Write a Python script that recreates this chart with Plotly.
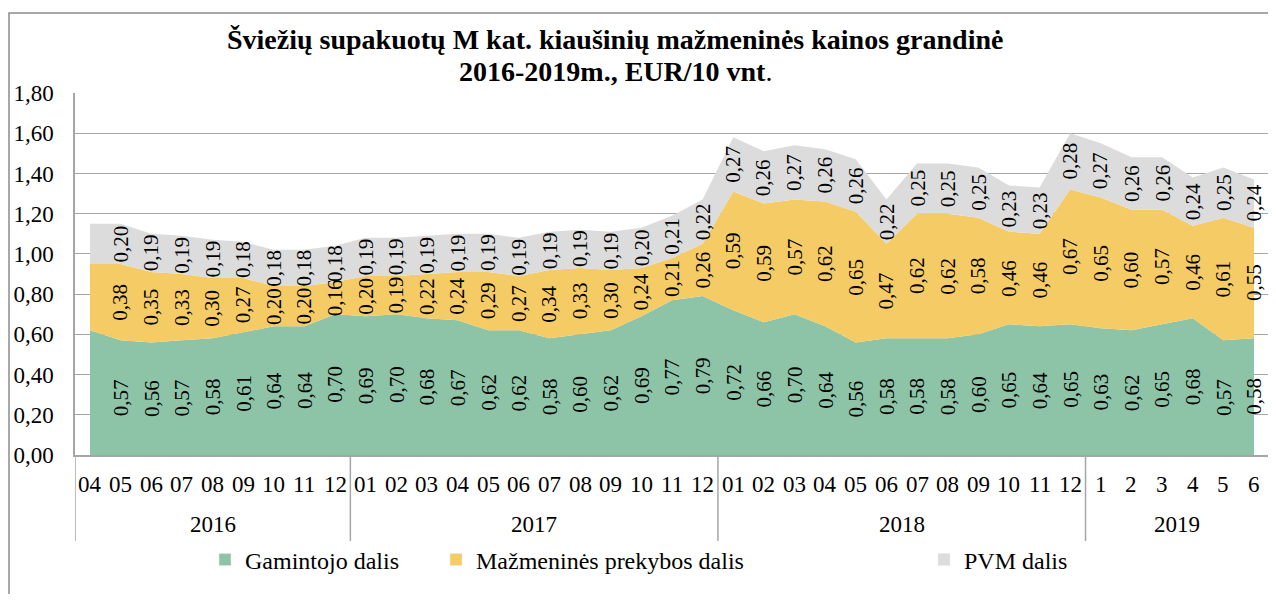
import plotly.graph_objects as go

# ---- data ----
months = ["04", "05", "06", "07", "08", "09", "10", "11", "12",
          "01", "02", "03", "04", "05", "06", "07", "08", "09", "10", "11", "12",
          "01", "02", "03", "04", "05", "06", "07", "08", "09", "10", "11", "12",
          "1", "2", "3", "4", "5", "6"]
years = ["2016", "2017", "2018", "2019"]
months_per_year = [9, 12, 12, 6]

producer = [0.62, 0.57, 0.56, 0.57, 0.58, 0.61, 0.64, 0.64, 0.70,
            0.69, 0.70, 0.68, 0.67, 0.62, 0.62, 0.58, 0.60, 0.62, 0.69, 0.77, 0.79,
            0.72, 0.66, 0.70, 0.64, 0.56, 0.58, 0.58, 0.58, 0.60, 0.65, 0.64, 0.65,
            0.63, 0.62, 0.65, 0.68, 0.57, 0.58]
retail = [0.33, 0.38, 0.35, 0.33, 0.30, 0.27, 0.20, 0.20, 0.16,
          0.20, 0.19, 0.22, 0.24, 0.29, 0.27, 0.34, 0.33, 0.30, 0.24, 0.21, 0.26,
          0.59, 0.59, 0.57, 0.62, 0.65, 0.47, 0.62, 0.62, 0.58, 0.46, 0.46, 0.67,
          0.65, 0.60, 0.57, 0.46, 0.61, 0.55]
vat = [0.20, 0.20, 0.19, 0.19, 0.19, 0.18, 0.18, 0.18, 0.18,
       0.19, 0.19, 0.19, 0.19, 0.19, 0.19, 0.19, 0.19, 0.19, 0.20, 0.21, 0.22,
       0.27, 0.26, 0.27, 0.26, 0.26, 0.22, 0.25, 0.25, 0.25, 0.23, 0.23, 0.28,
       0.27, 0.26, 0.26, 0.24, 0.25, 0.24]
series_names = ["Gamintojo dalis", "Mažmeninės prekybos dalis", "PVM dalis"]
title_lines = ["<b>Šviežių supakuotų M kat. kiaušinių mažmeninės kainos grandinė</b>",
               "<b>2016-2019m., EUR/10 vnt</b>."]
first_labelled = 1  # the first month carries no data labels in the original

# ---- style / geometry (reference-pixel based) ----
FONT = "Liberation Serif"
colors = ["#8DC3A7", "#F5CB65", "#DCDCDC"]
GRID = "#A6A6A6"
OFF = 8                       # page body margin of the html page
REF_W, REF_H = 1276, 602
W, H = REF_W - 2 * OFF, REF_H - 2 * OFF     # keep the page free of overflow
PLOT_L, PLOT_R, PLOT_T, PLOT_B = 75, REF_W - OFF, 93, 455   # reference pixels
ML, MR = PLOT_L - OFF, 0
MT = PLOT_T - OFF
MB = H - (PLOT_B - OFF)
PW, PH = W - ML - MR, H - MT - MB
X0_PX, X_LAST_PX = 90.0, 1254.0   # reference pixels of the first / last point
STEP = (X_LAST_PX - X0_PX) / (len(months) - 1)


def px_to_x(px):
    return (px - X0_PX) / STEP


def py_to_paper(py):
    return (PLOT_B - py) / PH


def px_to_paper(px):
    return (px - PLOT_L) / PW


n = len(months)
xs = list(range(n))
fig = go.Figure()

for name, vals, col in zip(series_names, [producer, retail, vat], colors):
    fig.add_trace(go.Scatter(x=xs, y=vals, name=name, stackgroup="one", mode="none",
                             fillcolor=col, showlegend=False, hoverinfo="y"))

legend_ids = ["legend", "legend2", "legend3"]
legend_text_px = [245, 476, 964]
for name, col, lid in zip(series_names, colors, legend_ids):
    fig.add_trace(go.Bar(x=[None], y=[None], name=name, marker_color=col,
                         showlegend=True, legend=lid))

# data labels (rotated), centred in each band
ann = []
for i in range(first_labelled, n):
    base = 0.0
    for vals in (producer, retail, vat):
        v = vals[i]
        ann.append(dict(x=i, y=base + v / 2, xref="x", yref="y",
                        xanchor="center", yanchor="middle",
                        text=f"{v:.2f}".replace(".", ","), showarrow=False,
                        textangle=-90, font=dict(family=FONT, size=21, color="black")))
        base += v

# month labels
for i, m in enumerate(months):
    ann.append(dict(x=i, y=py_to_paper(484), xref="x", yref="paper", text=m,
                    xanchor="center", yanchor="middle",
                    showarrow=False, font=dict(family=FONT, size=23, color="black")))

# year labels and dividers
shapes = []
start = 0
bounds = [px_to_x(PLOT_L)]
for yname, cnt in zip(years, months_per_year):
    left = start - 0.5
    right = start + cnt - 0.5
    ann.append(dict(x=(left + right) / 2, y=py_to_paper(524), xref="x", yref="paper",
                    xanchor="center", yanchor="middle",
                    text=yname, showarrow=False,
                    font=dict(family=FONT, size=23, color="black")))
    if start > 0:
        bounds.append(left)
    start += cnt
for b in bounds:
    shapes.append(dict(type="line", xref="x", yref="paper", x0=b, x1=b,
                       y0=0, y1=py_to_paper(541), line=dict(color=GRID, width=1.5)))

# outer frame
shapes.append(dict(type="rect", xref="paper", yref="paper",
                   x0=px_to_paper(9), x1=px_to_paper(1300),
                   y0=py_to_paper(640), y1=py_to_paper(13),
                   line=dict(color="#8C8C8C", width=1.5), layer="below"))

# title (two centred lines)
for txt, ty in zip(title_lines, [40, 72]):
    ann.append(dict(x=px_to_paper(615), y=py_to_paper(ty), xref="paper", yref="paper",
                    xanchor="center", yanchor="middle", text=txt, showarrow=False,
                    font=dict(family=FONT, size=28, color="black")))

legend_common = dict(orientation="h", yanchor="middle", xanchor="left",
                     y=py_to_paper(560), font=dict(family=FONT, size=24, color="black"),
                     bgcolor="rgba(0,0,0,0)", itemwidth=30)
legend_cfg = {}
for lid, tpx in zip(legend_ids, legend_text_px):
    legend_cfg[lid] = dict(x=px_to_paper(tpx - 40), **legend_common)

fig.update_layout(
    width=W, height=H,
    margin=dict(l=ML, r=MR, t=MT, b=MB),
    paper_bgcolor="white", plot_bgcolor="white",
    separators=",.",
    showlegend=True,
    annotations=ann,
    shapes=shapes,
    xaxis=dict(range=[px_to_x(PLOT_L), px_to_x(PLOT_R)], showgrid=False, zeroline=False,
               showticklabels=False, showline=True, linecolor=GRID, linewidth=1.5,
               ticks=""),
    yaxis=dict(range=[0, 1.8], dtick=0.2, tickformat=".2f", showgrid=True,
               gridcolor=GRID, gridwidth=1.3, zeroline=False, showline=True,
               linecolor=GRID, linewidth=1.5, ticks="", ticklabelstandoff=15,
               tickfont=dict(family=FONT, size=23, color="black")),
    **legend_cfg,
)

fig.write_html("out.html")
